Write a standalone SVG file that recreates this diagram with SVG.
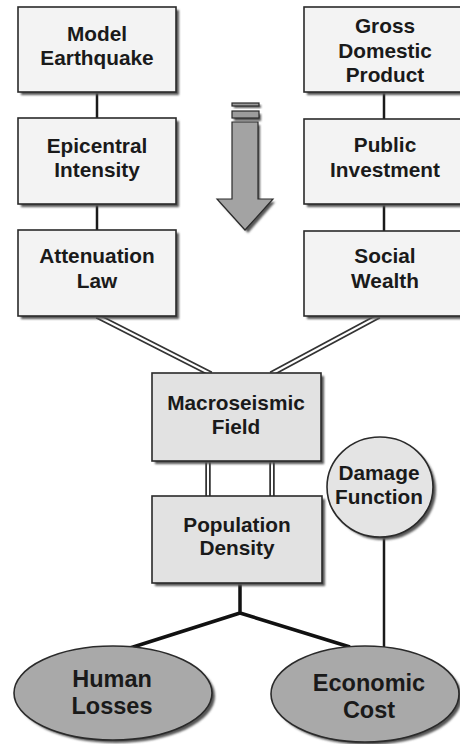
<svg xmlns="http://www.w3.org/2000/svg" width="460" height="744" viewBox="0 0 460 744">
<defs>
<filter id="blur" x="-10%" y="-10%" width="130%" height="130%"><feGaussianBlur stdDeviation="0.8"/></filter>
</defs>
<style>
.box{fill:#f3f3f3;stroke:#2a2a2a;stroke-width:1.6}
.box2{fill:#e2e2e2;stroke:#2a2a2a;stroke-width:1.6}
.sh{fill:#555;filter:url(#blur)}
.ell{fill:#a9a9a9;stroke:#2a2a2a;stroke-width:1.6}
.circ{fill:#e4e4e4;stroke:#2a2a2a;stroke-width:1.6}
.t{font-family:"Liberation Sans",Arial,sans-serif;font-weight:bold;font-size:20.8px;fill:#1a1a1a;text-anchor:middle}
.tb{font-family:"Liberation Sans",Arial,sans-serif;font-weight:bold;font-size:23.5px;fill:#1a1a1a;text-anchor:middle}
.ln{stroke:#1a1a1a;stroke-width:2.5;fill:none}
.thick{stroke:#111;stroke-width:3.5;fill:none;stroke-linejoin:round}
.dbo{stroke:#333;stroke-width:5.5;fill:none}
.dbi{stroke:#fff;stroke-width:2;fill:none}
</style>

<g id="connectors">
<line class="ln" x1="97" y1="92" x2="97" y2="118"/>
<line class="ln" x1="97" y1="204" x2="97" y2="230"/>
<line class="ln" x1="384" y1="92" x2="384" y2="119"/>
<line class="ln" x1="384" y1="204" x2="384" y2="231"/>
<path class="dbo" d="M97,316 L211,374 M379,316 L271,374 M208,461 L208,496 M272,461 L272,496"/>
<path class="dbi" d="M97,316 L211,374 M379,316 L271,374 M208,461 L208,496 M272,461 L272,496"/>
<path class="thick" d="M240,583 L240,613 M130,648 L240,613 L350,647"/>
<line class="ln" x1="384" y1="537" x2="384" y2="647"/>
</g>

<g id="arrow">
<rect x="234" y="105" width="27" height="3" class="sh"/>
<rect x="234" y="114" width="27" height="7" class="sh"/>
<path class="sh" d="M234,125 L260,125 L260,202 L275,202 L248,233 L220,202 L234,202 Z"/>
<rect x="232" y="103" width="27" height="3" fill="#9c9c9c" stroke="#2a2a2a" stroke-width="1.2"/>
<rect x="232" y="111" width="27" height="7" fill="#9c9c9c" stroke="#2a2a2a" stroke-width="1.2"/>
<path d="M232,122 L258,122 L258,199 L273,199 L245,230 L217,199 L232,199 Z" fill="#a3a3a3" stroke="#2a2a2a" stroke-width="1.2"/>
</g>

<g id="model-earthquake">
<rect class="sh" x="21" y="10" width="158" height="85"/>
<rect class="box" x="18" y="7" width="158" height="85"/>
<text class="t" x="97" y="41">Model</text>
<text class="t" x="97" y="65">Earthquake</text>
</g>
<g id="epicentral-intensity">
<rect class="sh" x="21" y="121" width="158" height="86"/>
<rect class="box" x="18" y="118" width="158" height="86"/>
<text class="t" x="97" y="153">Epicentral</text>
<text class="t" x="97" y="177">Intensity</text>
</g>
<g id="attenuation-law">
<rect class="sh" x="21" y="233" width="158" height="86"/>
<rect class="box" x="18" y="230" width="158" height="86"/>
<text class="t" x="97" y="263">Attenuation</text>
<text class="t" x="97" y="288">Law</text>
</g>

<g id="gross-domestic-product">
<rect class="sh" x="307" y="10" width="160" height="85"/>
<rect class="box" x="304" y="7" width="160" height="85"/>
<text class="t" x="385" y="33">Gross</text>
<text class="t" x="385" y="58">Domestic</text>
<text class="t" x="385" y="82">Product</text>
</g>
<g id="public-investment">
<rect class="sh" x="307" y="122" width="160" height="85"/>
<rect class="box" x="304" y="119" width="160" height="85"/>
<text class="t" x="385" y="152">Public</text>
<text class="t" x="385" y="177">Investment</text>
</g>
<g id="social-wealth">
<rect class="sh" x="307" y="234" width="160" height="85"/>
<rect class="box" x="304" y="231" width="160" height="85"/>
<text class="t" x="385" y="263">Social</text>
<text class="t" x="385" y="288">Wealth</text>
</g>

<g id="macroseismic-field">
<rect class="sh" x="155" y="376" width="169" height="88"/>
<rect class="box2" x="152" y="373" width="169" height="88"/>
<text class="t" x="236" y="410">Macroseismic</text>
<text class="t" x="236" y="434">Field</text>
</g>
<g id="population-density">
<rect class="sh" x="155" y="499" width="170" height="87"/>
<rect class="box2" x="152" y="496" width="170" height="87"/>
<text class="t" x="237" y="532">Population</text>
<text class="t" x="237" y="555">Density</text>
</g>

<g id="damage-function">
<ellipse class="sh" cx="383" cy="490" rx="53" ry="50"/>
<ellipse class="circ" cx="380" cy="487" rx="53" ry="50"/>
<text class="t" x="379" y="480">Damage</text>
<text class="t" x="379" y="504">Function</text>
</g>

<g id="human-losses">
<ellipse class="sh" cx="116" cy="696" rx="99" ry="47"/>
<ellipse class="ell" cx="113" cy="693" rx="99" ry="47"/>
<text class="tb" x="112" y="687">Human</text>
<text class="tb" x="112" y="714">Losses</text>
</g>
<g id="economic-cost">
<ellipse class="sh" cx="368" cy="697" rx="94" ry="48"/>
<ellipse class="ell" cx="365" cy="694" rx="94" ry="48"/>
<text class="tb" x="369" y="691">Economic</text>
<text class="tb" x="369" y="718">Cost</text>
</g>
</svg>
